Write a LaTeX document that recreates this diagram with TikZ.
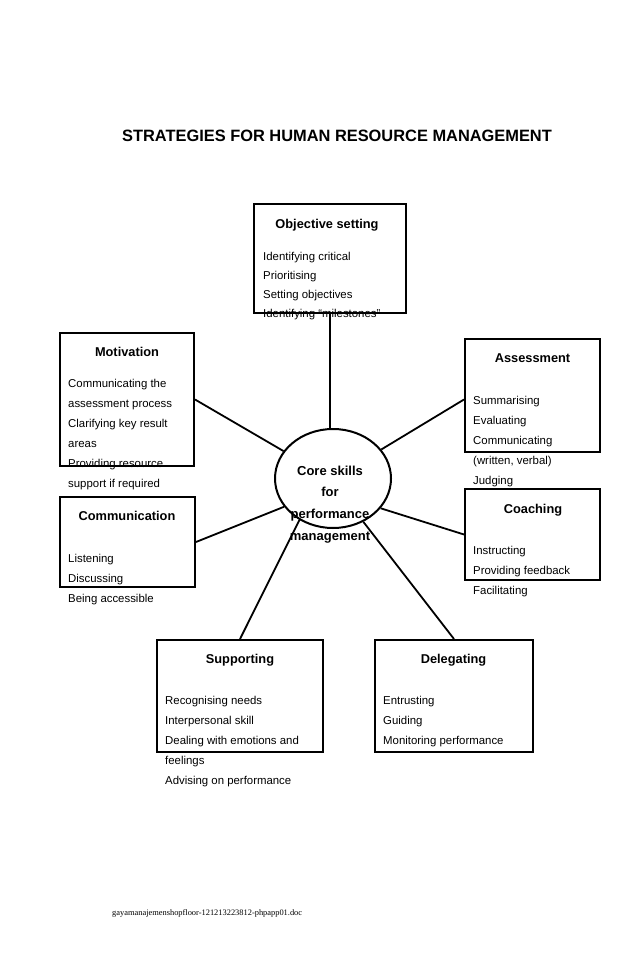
\documentclass[tikz,border=0pt]{standalone}
\usepackage{fontspec}
\setmainfont{Liberation Sans}
\newfontfamily\footfont{Liberation Serif}
\usetikzlibrary{shapes.geometric}
\begin{document}
\begin{tikzpicture}[x=1pt,y=-1pt,
  box/.style={draw, line width=2pt, inner sep=0pt},
  conn/.style={line width=1.8pt},
  head/.style={font=\bfseries\fontsize{12.8}{14}\selectfont, anchor=base, inner sep=0pt},
  itm/.style={font=\fontsize{11.4}{13}\selectfont, anchor=base west, inner sep=0pt},
  core/.style={draw, ellipse, line width=2pt, inner sep=0pt, minimum width=116pt, minimum height=99pt},
  coretext/.style={font=\bfseries\fontsize{13}{15}\selectfont, anchor=base, inner sep=0pt}]
\useasboundingbox (0,0) rectangle (638,976);

% title
\node[font=\bfseries\fontsize{16.4}{18}\selectfont, anchor=base, inner sep=0pt] (title) at (337,141.7) {STRATEGIES FOR HUMAN RESOURCE MANAGEMENT};

% boxes
\node[box, minimum width=152pt, minimum height=109pt] (obj) at (330,258.5) {};
\node[box, minimum width=134pt, minimum height=133pt] (mot) at (127,399.5) {};
\node[box, minimum width=135pt, minimum height=113pt] (ass) at (532.5,395.5) {};
\node[box, minimum width=135pt, minimum height=91pt] (coa) at (532.5,534.5) {};
\node[box, minimum width=135pt, minimum height=90pt] (com) at (127.5,542) {};
\node[box, minimum width=166pt, minimum height=112pt] (sup) at (240,696) {};
\node[box, minimum width=158pt, minimum height=112pt] (del) at (454,696) {};
\node[core] (core) at (333,478.5) {};

% connectors
\draw[conn] (obj.south) -- (obj.south |- core.north);
\draw[conn] (mot.east) -- (core.151);
\draw[conn] ([yshift=-4pt]ass.west) -- (core.31);
\draw[conn] (com.east) -- (core.210);
\draw[conn] (coa.west) -- (core.328);
\draw[conn] (sup.north) -- (core.231);
\draw[conn] (del.north) -- (core.305);

% core text
\node[coretext] (c1) at (330,475) {Core skills};
\node[coretext] (c2) at (330,496.7) {for};
\node[coretext] (c3) at (330,518.5) {performance};
\node[coretext] (c4) at (330,540) {management};

% headings
\node[head] (objh) at (327,228.3) {Objective setting};
\node[head] (moth) at (127,356) {Motivation};
\node[head] (assh) at (532.5,362.7) {Assessment};
\node[head] (coah) at (533,513) {Coaching};
\node[head] (comh) at (127,520.7) {Communication};
\node[head] (suph) at (240,663.3) {Supporting};
\node[head] (delh) at (453.5,663.3) {Delegating};

% items
\foreach \t [count=\i] in {Identifying critical, Prioritising, Setting objectives, Identifying “milestones”}
  \node[itm] (obj\i) at (263,{260+19.1*(\i-1)}) {\t};
\foreach \t [count=\i] in {Communicating the, assessment process, Clarifying key result, areas, Providing resource, support if required}
  \node[itm] (mot\i) at (68,{387.3+20*(\i-1)}) {\t};
\foreach \t [count=\i] in {Summarising, Evaluating, Communicating, {(written, verbal)}, Judging}
  \node[itm] (ass\i) at (473,{404+20*(\i-1)}) {\t};
\foreach \t [count=\i] in {Instructing, Providing feedback, Facilitating}
  \node[itm] (coa\i) at (473,{554+20*(\i-1)}) {\t};
\foreach \t [count=\i] in {Listening, Discussing, Being accessible}
  \node[itm] (com\i) at (68,{562.7+20*(\i-1)}) {\t};
\foreach \t [count=\i] in {Recognising needs, Interpersonal skill, Dealing with emotions and, feelings, Advising on performance}
  \node[itm] (sup\i) at (165,{704+20*(\i-1)}) {\t};
\foreach \t [count=\i] in {Entrusting, Guiding, Monitoring performance}
  \node[itm] (del\i) at (383,{704+20*(\i-1)}) {\t};

% footer
\node[font=\footfont\fontsize{8.4}{9}\selectfont, anchor=base west, inner sep=0pt] (foot) at (112,915) {gayamanajemenshopfloor-121213223812-phpapp01.doc};
\end{tikzpicture}
\end{document}
